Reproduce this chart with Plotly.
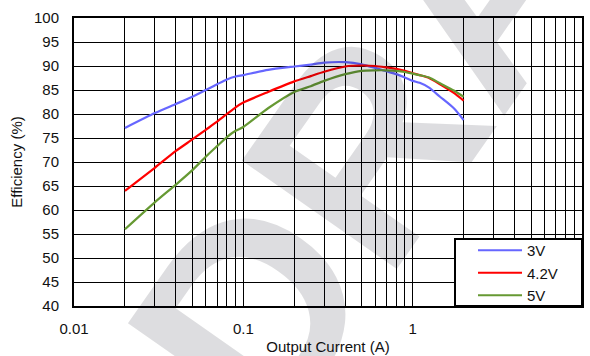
import plotly.graph_objects as go

# Output current (A)
current = [0.02, 0.03, 0.04, 0.05, 0.06, 0.07, 0.08, 0.09, 0.1, 0.14, 0.2, 0.25,
           0.3, 0.4, 0.5, 0.6, 0.7, 0.8, 0.9, 1.0, 1.1, 1.25, 1.45, 1.75, 2.0]

eff_3v = [77.1, 80.2, 82.1, 83.6, 85.0, 86.2, 87.2, 87.8, 88.1, 89.2, 89.9, 90.3,
          90.7, 90.8, 90.35, 89.6, 88.9, 88.3, 87.6, 86.9, 86.5, 85.5, 83.6, 81.2, 78.75]
eff_42v = [64.0, 68.8, 72.3, 74.7, 76.7, 78.4, 80.0, 81.4, 82.4, 84.6, 86.8, 87.9,
           88.8, 89.9, 90.1, 90.0, 89.7, 89.4, 89.0, 88.5, 88.1, 87.5, 86.2, 84.4, 82.8]
eff_5v = [56.0, 61.6, 65.3, 68.3, 71.1, 73.3, 75.2, 76.5, 77.3, 81.2, 84.6, 85.8,
          86.9, 88.3, 89.0, 89.1, 89.1, 89.0, 88.75, 88.4, 88.1, 87.6, 86.4, 84.9, 83.6]

series_names = ["3V", "4.2V", "5V"]
series_colors = ["#6666FF", "#FF0000", "#669933"]
series_values = [eff_3v, eff_42v, eff_5v]

x_tickvals = [0.01, 0.1, 1, 10]
x_ticktext = ["0.01", "0.1", "1", "10"]

FONT = "Liberation Sans, Arial, sans-serif"

fig = go.Figure()
for name, color, vals in zip(series_names, series_colors, series_values):
    fig.add_trace(go.Scatter(
        x=current, y=vals, name=name, mode="lines",
        line=dict(color=color, width=2.2, shape="spline", smoothing=0.6),
        legendgroup=name,
    ))

fig.update_layout(
    width=590, height=356,
    margin=dict(l=74, r=8, t=18, b=50),
    paper_bgcolor="white", plot_bgcolor="white",
    font=dict(family=FONT, size=15, color="#111111"),
    showlegend=True,
    legend=dict(
        x=(473 - 74) / 508, y=(306 - 234) / 288, xanchor="left", yanchor="top",
        bgcolor="rgba(0,0,0,0)", borderwidth=0, itemwidth=44,
        font=dict(family=FONT, size=15, color="#111111"),
        tracegroupgap=0,
    ),
    shapes=[dict(
        type="rect", xref="paper", yref="paper",
        x0=(455 - 74) / 508, x1=1, y0=0, y1=(306 - 239) / 288,
        line=dict(color="black", width=2), fillcolor="white", layer="above",
    )],
    annotations=[dict(
        text="DRAFT", xref="paper", yref="paper",
        x=(461 - 74) / 508, y=(306 - 10) / 288, showarrow=False,
        xanchor="center", yanchor="middle",
        textangle=-55,
        font=dict(family=FONT, size=275, color="rgba(0,3,20,0.135)", weight="bold"),
    )],
)

fig.update_xaxes(
    type="log", range=[-2, 1],
    tickvals=x_tickvals, ticktext=x_ticktext,
    ticks="", ticklabelstandoff=8,
    showgrid=True, gridcolor="black", gridwidth=1,
    minor=dict(dtick="D1", showgrid=True, gridcolor="black", gridwidth=1, ticks=""),
    showline=True, linecolor="black", linewidth=2, mirror=True,
    zeroline=False,
    title=dict(text="Output Current (A)", standoff=5,
               font=dict(family=FONT, size=15, color="#111111")),
    automargin=False,
)
fig.update_yaxes(
    range=[40, 100], dtick=5,
    ticks="", ticklabelstandoff=10,
    showgrid=True, gridcolor="black", gridwidth=1,
    showline=True, linecolor="black", linewidth=2, mirror=True,
    zeroline=False,
    title=dict(text="Efficiency (%)", standoff=8,
               font=dict(family=FONT, size=15, color="#111111")),
    automargin=False,
)

fig.write_html("out.html")
